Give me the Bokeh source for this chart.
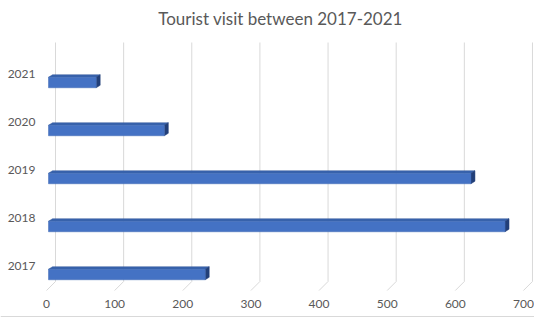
from bokeh.plotting import figure
from bokeh.models import Range1d, ColumnDataSource
from bokeh.core.properties import value
from bokeh.embed import file_html
from bokeh.resources import INLINE

# ---- data ----
years = ["2017", "2018", "2019", "2020", "2021"]
visits = [230, 670, 620, 170, 70]
ticks = [0, 100, 200, 300, 400, 500, 600, 700]
tick_labels = ["0", "100", "200", "300", "400", "500", "600", "700"]
title_text = "Tourist visit between 2017-2021"

# ---- layout (pixels) ----
W, H = 534, 317
PX = 0.6814          # pixels per unit on x
X0 = 48              # pixel of x=0 (bar origin)
UNIT = 48            # pixels per category step
Y0 = 274             # pixel (from top) of first category centre

def dx(px):
    return px / PX

def dy(px):
    return px / UNIT

def ypix(px_from_top):
    return (Y0 - px_from_top) / UNIT

p = figure(width=W, height=H, output_backend="svg", toolbar_location=None,
           x_range=Range1d(-X0 / PX, (W - X0) / PX),
           y_range=Range1d(-(H - Y0) / UNIT, Y0 / UNIT),
           min_border=0, outline_line_color=None, background_fill_color="white",
           border_fill_color="white")
p.axis.visible = False
p.grid.visible = False

FONT = value("Lato")
GRID = "#D9D9D9"
TXT = "#595959"

# gridlines on back wall with perspective foot
g_off = dx(7)
g_top = ypix(42)
g_bot = ypix(281)
g_foot_y = ypix(290)
g_foot_dx = dx(9)
p.segment(x0=[t + g_off for t in ticks], y0=[g_top] * len(ticks),
          x1=[t + g_off for t in ticks], y1=[g_bot] * len(ticks),
          line_color=GRID, line_width=1)
p.segment(x0=[t + g_off for t in ticks], y0=[g_bot] * len(ticks),
          x1=[t + g_off - g_foot_dx for t in ticks], y1=[g_foot_y] * len(ticks),
          line_color=GRID, line_width=1)

# 3D bars
ys = list(range(len(years)))
bh = dy(10.5)
ddx = dx(4)
ddy = dy(2.5)
top_xs, top_ys, side_xs, side_ys = [], [], [], []
for y, v in zip(ys, visits):
    t = y + bh / 2
    b = y - bh / 2
    top_xs.append([0, v, v + ddx, ddx])
    top_ys.append([t, t, t + ddy, t + ddy])
    side_xs.append([v, v, v + ddx, v + ddx])
    side_ys.append([b, t, t + ddy, b + ddy])

p.patches(xs=top_xs, ys=top_ys, fill_color="#3A64AE", line_color="#2F5597", line_width=0.5)
p.patches(xs=side_xs, ys=side_ys, fill_color="#223F78", line_color="#223F78", line_width=0.5)
src = ColumnDataSource(dict(y=ys, v=visits))
p.hbar(y="y", left=0, right="v", height=bh, source=src,
       fill_color="#4472C4", line_color="#3F69B5", line_width=0.5)

# category labels
p.text(x=[dx(35 - X0)] * len(years), y=[y + dy(8.5) for y in ys], text=years,
       text_font=FONT, text_font_size="12px", text_color=TXT,
       text_align="right", text_baseline="middle")

# tick labels
p.text(x=[t - dx(2) for t in ticks], y=[ypix(303)] * len(ticks), text=tick_labels,
       text_font=FONT, text_font_size="12px", text_color=TXT,
       text_align="center", text_baseline="middle")

# bottom border line
p.segment(x0=[-X0 / PX], y0=[ypix(316)], x1=[(W - X0) / PX], y1=[ypix(316)],
          line_color=GRID, line_width=1)

# title
p.text(x=[dx(280 - X0)], y=[ypix(18)], text=[title_text],
       text_font=FONT, text_font_size="17px", text_color=TXT,
       text_align="center", text_baseline="alphabetic")

open("out.html", "w").write(file_html(p, INLINE))
